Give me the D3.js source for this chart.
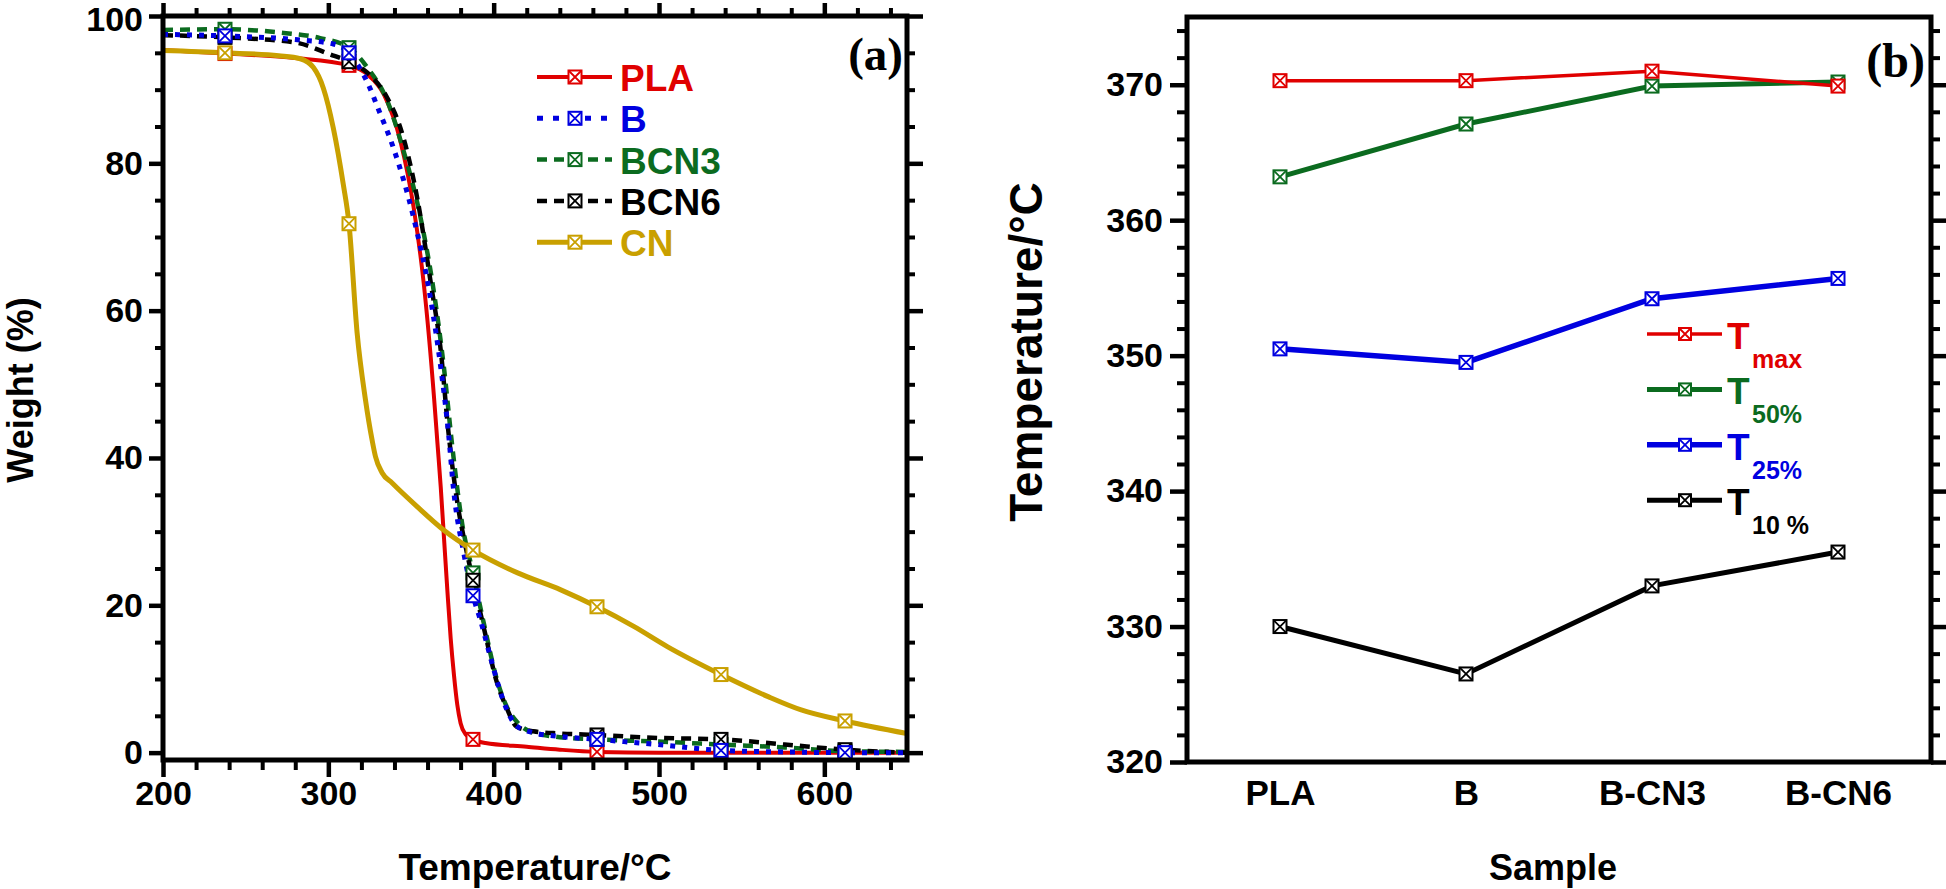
<!DOCTYPE html>
<html>
<head>
<meta charset="utf-8">
<script src="https://cdn.jsdelivr.net/npm/d3@7"></script>
<style>
  html, body { margin: 0; padding: 0; background: #fff; }
  svg { display: block; }
  text { font-family: "Liberation Sans", Arial, sans-serif; font-weight: bold; }
</style>
</head>
<body>
<svg id="chart" width="1946" height="889"></svg>
<script>
// ---------------- Data: panel (a) TGA curves [Temperature °C, Weight %] ----------------
const seriesNamesA = ["PLA", "B", "BCN3", "BCN6", "CN"];
const PLA = [[200,95.4],[237.5,94.9],[280,94.3],[312.5,93.3],[324,92.0],[333.5,89.4],[343.6,83.0],[351.6,74.0],[357.7,63.7],[364,48.0],[366,42.0],[368,36.0],[370,29.0],[372,22.0],[374,15.5],[376,10.5],[378,6.5],[380,4.0],[383,2.5],[387.5,1.8],[395,1.3],[420,0.8],[440,0.4],[462.5,0.1],[500,0],[537.5,0],[612.5,0],[650,0]];
const B = [[200,97.5],[237.5,97.3],[280,96.8],[303,96.2],[312.5,95.0],[318,93.3],[323.6,91.0],[330,87.5],[339.5,82.0],[351.6,72.6],[362,61.4],[368,52.3],[372.7,43.3],[375.8,35.6],[382,27.0],[387.5,21.3],[392,18.0],[398,13.0],[403,9.0],[408,5.8],[414,3.6],[424,2.7],[440,2.2],[462.5,1.8],[499,1.1],[537.5,0.3],[575,0.1],[612.5,0],[650,0]];
const BCN3 = [[200,98.1],[237.5,98.2],[273,97.7],[295,97.0],[312.5,95.7],[323.6,93.0],[335.6,88.5],[345.5,81.7],[355.8,72.6],[364,62.3],[369.9,52.3],[375,41.5],[381,31.0],[387.5,24.4],[394,17.6],[402,9.9],[408,6.2],[414,4.2],[424,2.7],[440,2.1],[462.5,1.8],[499,1.5],[537.5,1.1],[576,0.7],[612.5,0.2],[650,0.1]];
const BCN6 = [[200,97.4],[237.5,97.1],[280,96.4],[301,94.8],[312.5,93.8],[323.6,92.3],[335.6,88.9],[343.6,84.8],[354,75.0],[362,63.7],[368,54.6],[372.7,43.4],[378,34.0],[383,28.0],[387.5,23.4],[394,17.0],[402,9.5],[408,6.0],[414,3.5],[424,2.9],[440,2.6],[462.5,2.4],[499,2.0],[537.5,1.8],[576,1.1],[612.5,0.4],[650,0]];
const CN = [[200,95.3],[237.5,95.0],[270,94.6],[283,94.2],[291,93.0],[297,90.2],[303,84.8],[309,77.2],[312.5,71.8],[317.4,57.0],[322.4,48.0],[326.5,42.4],[328.5,40.2],[332.5,38.0],[338.6,36.6],[353.7,33.4],[369.9,30.2],[387.5,27.5],[414.5,24.4],[440.6,22.1],[462.5,19.8],[485,17.1],[505,14.4],[537.5,10.6],[566,7.6],[586,5.8],[612.5,4.3],[650,2.6]];
const markerTemps = [237.5, 312.5, 387.5, 462.5, 537.5, 612.5];
const xTicksA = [200, 300, 400, 500, 600];
const yTicksA = [0, 20, 40, 60, 80, 100];

// ---------------- Data: panel (b) characteristic temperatures ----------------
const samples = ["PLA", "B", "B-CN3", "B-CN6"];
const Tmax = [370.3, 370.3, 371.0, 369.9];
const T50 = [363.2, 367.1, 369.9, 370.2];
const T25 = [350.5, 349.5, 354.2, 355.7];
const T10 = [330.0, 326.5, 333.0, 335.5];
const yTicksB = [320, 330, 340, 350, 360, 370];

// ---------------- Styles ----------------
const RED = "#e00000", BLUE = "#0000e0", GREEN = "#0b6b1f", BLACK = "#000000", GOLD = "#c9a000";

const svg = d3.select("#chart");

function drawMarker(g, cx, cy, color, s) {
  const h = s / 2;
  const m = g.append("g").attr("transform", `translate(${cx},${cy})`);
  m.append("rect").attr("x", -h).attr("y", -h).attr("width", s).attr("height", s)
    .attr("fill", "#fff").attr("stroke", color).attr("stroke-width", 2);
  m.append("path").attr("d", `M${-h},${-h}L${h},${h}M${h},${-h}L${-h},${h}`)
    .attr("stroke", color).attr("stroke-width", 1.8).attr("fill", "none");
}

function styleAxis(sel, width) {
  sel.select(".domain").remove();
  sel.selectAll(".tick line").attr("stroke", "#000").attr("stroke-width", width);
  sel.selectAll("text").attr("fill", "#000");
}

// ===================== Panel (a) =====================
const xA = d3.scaleLinear().domain([200, 650]).range([163, 907]);
const yA = d3.scaleLinear().domain([-1, 100]).range([760, 16]);
const gA = svg.append("g");

const xMinorA = d3.range(200, 650, 20).filter(v => v % 100 !== 0);
const yMinorA = d3.range(0, 101, 5).filter(v => v % 20 !== 0);

// left
gA.append("g").attr("transform", "translate(163,0)")
  .call(d3.axisLeft(yA).tickValues(yTicksA).tickSize(14).tickPadding(6).tickFormat(d3.format("d")))
  .call(s => styleAxis(s, 4.5))
  .call(s => s.selectAll("text").attr("font-size", 34)
    .attr("dy", d => d === 100 ? "0.42em" : "0.32em"));
gA.append("g").attr("transform", "translate(163,0)")
  .call(d3.axisLeft(yA).tickValues(yMinorA).tickSize(8).tickFormat(""))
  .call(s => styleAxis(s, 4));
// right
gA.append("g").attr("transform", "translate(907,0)")
  .call(d3.axisRight(yA).tickValues(yTicksA).tickSize(16).tickFormat(""))
  .call(s => styleAxis(s, 4.5));
gA.append("g").attr("transform", "translate(907,0)")
  .call(d3.axisRight(yA).tickValues(yMinorA).tickSize(8).tickFormat(""))
  .call(s => styleAxis(s, 4));
// bottom
gA.append("g").attr("transform", "translate(0,760)")
  .call(d3.axisBottom(xA).tickValues(xTicksA).tickSize(17).tickPadding(4).tickFormat(d3.format("d")))
  .call(s => styleAxis(s, 4.5)).selectAll("text").attr("font-size", 34);
gA.append("g").attr("transform", "translate(0,760)")
  .call(d3.axisBottom(xA).tickValues(xMinorA).tickSize(10).tickFormat(""))
  .call(s => styleAxis(s, 4));
// top
gA.append("g").attr("transform", "translate(0,16)")
  .call(d3.axisTop(xA).tickValues(xTicksA).tickSize(13).tickFormat(""))
  .call(s => styleAxis(s, 4.5));
gA.append("g").attr("transform", "translate(0,16)")
  .call(d3.axisTop(xA).tickValues(xMinorA).tickSize(8).tickFormat(""))
  .call(s => styleAxis(s, 4));

const seriesA = [
  { name: "PLA", data: PLA, color: RED, width: 4, dash: null },
  { name: "BCN3", data: BCN3, color: GREEN, width: 4.5, dash: "10,7" },
  { name: "BCN6", data: BCN6, color: BLACK, width: 4.5, dash: "10,7" },
  { name: "B", data: B, color: BLUE, width: 5, dash: "5,7" },
  { name: "CN", data: CN, color: GOLD, width: 5, dash: null }
];
const lineA = d3.line().x(d => xA(d[0])).y(d => yA(d[1])).curve(d3.curveMonotoneX);
seriesA.forEach(s => {
  gA.append("path").datum(s.data).attr("d", lineA)
    .attr("fill", "none").attr("stroke", s.color).attr("stroke-width", s.width)
    .attr("stroke-dasharray", s.dash);
});
seriesA.forEach(s => {
  markerTemps.forEach(t => {
    const p = s.data.find(d => Math.abs(d[0] - t) < 0.01);
    if (p) drawMarker(gA, xA(p[0]), yA(p[1]), s.color, 13);
  });
});

// frame
gA.append("rect").attr("x", 163).attr("y", 16).attr("width", 907 - 163).attr("height", 760 - 16)
  .attr("fill", "none").attr("stroke", "#000").attr("stroke-width", 5);

// legend (a)
const legendA = [
  { name: "PLA", color: RED, width: 4, dash: null },
  { name: "B", color: BLUE, width: 5, dash: "6,10" },
  { name: "BCN3", color: GREEN, width: 4.5, dash: "10,7" },
  { name: "BCN6", color: BLACK, width: 4.5, dash: "10,7" },
  { name: "CN", color: GOLD, width: 5, dash: null }
];
legendA.forEach((s, i) => {
  const ly = 77 + i * 41.3;
  gA.append("line").attr("x1", 537).attr("x2", 612).attr("y1", ly).attr("y2", ly)
    .attr("stroke", s.color).attr("stroke-width", s.width).attr("stroke-dasharray", s.dash);
  drawMarker(gA, 575, ly, s.color, 13);
  gA.append("text").attr("x", 620).attr("y", ly + 14).attr("font-size", 37)
    .attr("fill", s.color).text(s.name);
});

gA.append("text").attr("x", 903).attr("y", 70).attr("text-anchor", "end")
  .style("font-family", "'Liberation Serif', 'Times New Roman', serif")
  .attr("font-size", 47).text("(a)");

gA.append("text").attr("x", 535).attr("y", 880).attr("text-anchor", "middle")
  .attr("font-size", 37).text("Temperature/°C");
gA.append("text").attr("transform", "translate(33,390) rotate(-90)").attr("text-anchor", "middle")
  .attr("font-size", 36).text("Weight (%)");

// ===================== Panel (b) =====================
const xB = d3.scalePoint().domain(samples).range([1187, 1931]).padding(0.5);
const yB = d3.scaleLinear().domain([320, 375]).range([762, 17]);
const gB = svg.append("g");
const yMinorB = d3.range(320, 375, 2).filter(v => v % 10 !== 0);

gB.append("g").attr("transform", "translate(1187,0)")
  .call(d3.axisLeft(yB).tickValues(yTicksB).tickSize(17).tickPadding(7).tickFormat(d3.format("d")))
  .call(s => styleAxis(s, 4.5)).selectAll("text").attr("font-size", 34);
gB.append("g").attr("transform", "translate(1187,0)")
  .call(d3.axisLeft(yB).tickValues(yMinorB).tickSize(10).tickFormat(""))
  .call(s => styleAxis(s, 4));
gB.append("g").attr("transform", "translate(1931,0)")
  .call(d3.axisRight(yB).tickValues(yTicksB).tickSize(16).tickFormat(""))
  .call(s => styleAxis(s, 4.5));
gB.append("g").attr("transform", "translate(1931,0)")
  .call(d3.axisRight(yB).tickValues(yMinorB).tickSize(9).tickFormat(""))
  .call(s => styleAxis(s, 4));
gB.append("g").attr("transform", "translate(0,762)")
  .call(d3.axisBottom(xB).tickSize(0).tickPadding(18))
  .call(s => styleAxis(s, 0)).selectAll("text").attr("font-size", 35);

const seriesB = [
  { name: "T10", values: T10, color: BLACK, width: 5 },
  { name: "T25", values: T25, color: BLUE, width: 5.5 },
  { name: "T50", values: T50, color: GREEN, width: 5 },
  { name: "Tmax", values: Tmax, color: RED, width: 3.5 }
];
const lineB = d3.line().x(d => xB(d[0])).y(d => yB(d[1]));
seriesB.forEach(s => {
  const pts = samples.map((c, i) => [c, s.values[i]]);
  gB.append("path").datum(pts).attr("d", lineB)
    .attr("fill", "none").attr("stroke", s.color).attr("stroke-width", s.width);
  pts.forEach(p => drawMarker(gB, xB(p[0]), yB(p[1]), s.color, 13));
});

gB.append("rect").attr("x", 1187).attr("y", 17).attr("width", 1931 - 1187).attr("height", 762 - 17)
  .attr("fill", "none").attr("stroke", "#000").attr("stroke-width", 5);

// legend (b)
const legendB = [
  { main: "T", sub: "max", color: RED, width: 3.5 },
  { main: "T", sub: "50%", color: GREEN, width: 5 },
  { main: "T", sub: "25%", color: BLUE, width: 5.5 },
  { main: "T", sub: "10 %", color: BLACK, width: 5 }
];
legendB.forEach((s, i) => {
  const ly = 334 + i * 55.4;
  gB.append("line").attr("x1", 1647).attr("x2", 1722).attr("y1", ly).attr("y2", ly)
    .attr("stroke", s.color).attr("stroke-width", s.width);
  drawMarker(gB, 1685, ly, s.color, 12);
  gB.append("text").attr("x", 1727).attr("y", ly + 15).attr("font-size", 37)
    .attr("fill", s.color).text(s.main);
  gB.append("text").attr("x", 1752).attr("y", ly + 34).attr("font-size", 25)
    .attr("fill", s.color).text(s.sub);
});

gB.append("text").attr("x", 1925).attr("y", 77).attr("text-anchor", "end")
  .style("font-family", "'Liberation Serif', 'Times New Roman', serif")
  .attr("font-size", 48).text("(b)");

gB.append("text").attr("x", 1553).attr("y", 880).attr("text-anchor", "middle")
  .attr("font-size", 36).text("Sample");
gB.append("text").attr("transform", "translate(1042,352) rotate(-90)").attr("text-anchor", "middle")
  .attr("font-size", 46).text("Temperature/°C");
</script>
</body>
</html>
